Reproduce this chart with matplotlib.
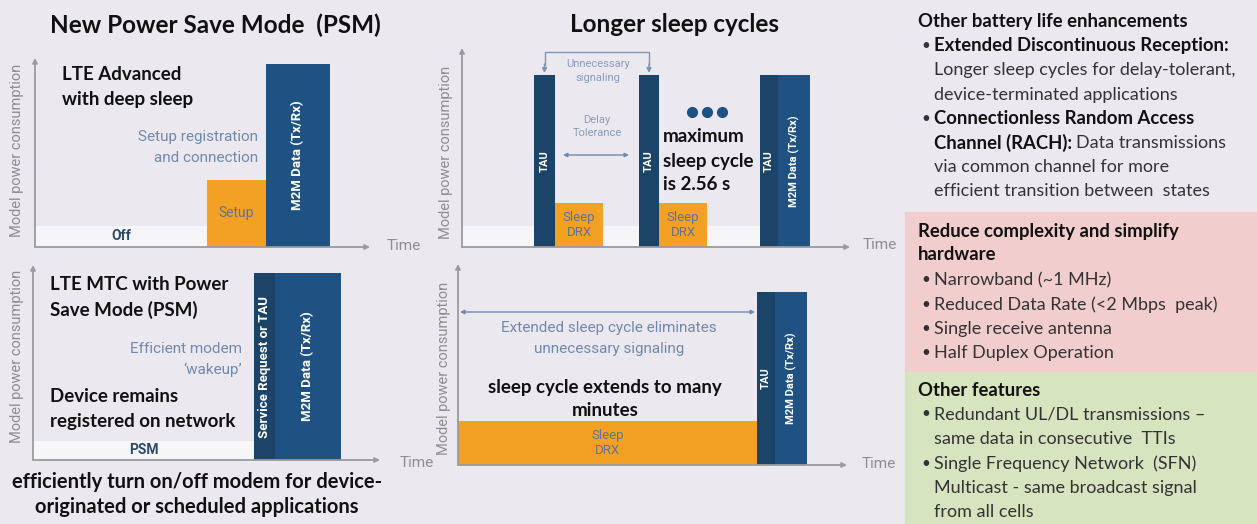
import numpy as np
import matplotlib.pyplot as plt
from matplotlib.patches import Rectangle

W, H = 1257, 524

BG = "#ECE8EF"
NAVY = "#1F5283"
NAVY_DARK = "#1B4468"
ORANGE = "#F2A124"
PALE = "#F6F6F8"
AXIS_GREY = "#9B9B9B"
NOTE_BLUE = "#7189AD"
IN_BAR_BLUE = "#5E7396"
RED_BOX = "#F2CDCD"
GREEN_BOX = "#D6E4BF"

# bar kinds: idle (near-off floor), sleep (orange), tau (dark navy), data (navy)
# top-left: LTE Advanced with deep sleep
adv_labels = ["Off", "Setup", "M2M Data (Tx/Rx)"]
adv_kinds = ["idle", "sleep", "data"]
adv_start = [0, 172, 231]
adv_width = [172, 59, 64]
adv_power = [21, 67, 183]

# bottom-left: LTE MTC with PSM
mtc_labels = ["PSM", "Service Request or TAU", "M2M Data (Tx/Rx)"]
mtc_kinds = ["idle", "tau", "data"]
mtc_start = [0, 221, 242]
mtc_width = [221, 21, 66]
mtc_power = [19, 187, 187]

# top-middle: regular DRX cycle
drx_labels = ["", "TAU", "Sleep\nDRX", "TAU", "Sleep\nDRX", "TAU", "M2M Data (Tx/Rx)"]
drx_kinds = ["idle", "tau", "sleep", "tau", "sleep", "tau", "data"]
drx_start = [0, 72, 93, 177, 197, 298, 316]
drx_width = [298, 21, 48, 20, 48, 18, 32]
drx_power = [21, 172, 44, 172, 44, 172, 172]

# bottom-middle: extended DRX
edrx_labels = ["Sleep\nDRX", "TAU", "M2M Data (Tx/Rx)"]
edrx_kinds = ["sleep", "tau", "data"]
edrx_start = [0, 299, 317]
edrx_width = [299, 18, 32]
edrx_power = [44, 173, 173]

KIND_COLOR = {"idle": PALE, "sleep": ORANGE, "tau": NAVY_DARK, "data": NAVY}

plt.rcParams["font.family"] = ["Lato", "DejaVu Sans"]

fig = plt.figure(figsize=(W / 100, H / 100), dpi=100)
fig.patch.set_facecolor(BG)

# full-figure layer in pixel units for free text and the side boxes
ov = fig.add_axes([0, 0, 1, 1], zorder=5)
ov.set_xlim(0, W)
ov.set_ylim(H, 0)
ov.axis("off")
ov.patch.set_alpha(0)


def panel(x0, y0, x1, y1):
    """Axes whose origin sits at pixel (x0, y0), one unit per pixel."""
    ax = fig.add_axes([x0 / W, (H - y0) / H, (x1 - x0) / W, (y0 - y1) / H])
    ax.set_xlim(0, x1 - x0)
    ax.set_ylim(0, y0 - y1)
    ax.axis("off")
    arrow = dict(arrowstyle="-|>", color=AXIS_GREY, lw=1.3,
                 mutation_scale=7, shrinkA=0, shrinkB=0)
    ax.annotate("", xy=(1, 0), xytext=(0, 0), xycoords="axes fraction",
                arrowprops=arrow, zorder=4)
    ax.annotate("", xy=(0, 1), xytext=(0, 0), xycoords="axes fraction",
                arrowprops=arrow, zorder=4)
    return ax


def draw_bars(ax, start, width, power, kinds, labels, rot_size, flat_size):
    ax.bar(start, power, width=width, align="edge",
           color=[KIND_COLOR[k] for k in kinds], zorder=2)
    for s, w, p, k, lab in zip(start, width, power, kinds, labels):
        if not lab:
            continue
        cx, cy = s + w / 2, p / 2
        if k in ("tau", "data"):
            ax.text(cx, cy, lab, rotation=90, ha="center", va="center",
                    color="white", fontsize=rot_size, fontweight="bold",
                    family="Roboto", zorder=3)
        elif k == "sleep":
            ax.text(cx, cy, lab, ha="center", va="center", color=IN_BAR_BLUE,
                    fontsize=flat_size, family="Roboto", linespacing=1.25,
                    zorder=3)
        else:
            ax.text(cx, cy, lab, ha="center", va="center", color="#2C4A6C",
                    fontsize=flat_size, fontweight="bold", family="Roboto",
                    zorder=3)


ax_a = panel(35, 247, 370, 58)
draw_bars(ax_a, adv_start, adv_width, adv_power, adv_kinds, adv_labels, 9.5, 10)

ax_b = panel(33, 460, 380, 265)
draw_bars(ax_b, mtc_start, mtc_width, mtc_power, mtc_kinds, mtc_labels, 9.5, 10)

ax_c = panel(462, 247, 850, 48)
draw_bars(ax_c, drx_start, drx_width, drx_power, drx_kinds, drx_labels, 8, 9.5)

ax_d = panel(458, 465, 847, 264)
draw_bars(ax_d, edrx_start, edrx_width, edrx_power, edrx_kinds, edrx_labels, 8, 9.5)

# bracket over the first two TAU bars
tau_idx = [i for i, k in enumerate(drx_kinds) if k == "tau"]
left_c = drx_start[tau_idx[0]] + drx_width[tau_idx[0]] / 2
right_c = drx_start[tau_idx[1]] + drx_width[tau_idx[1]] / 2
top = max(drx_power)
ax_c.plot([left_c, left_c, right_c, right_c], [top + 10, top + 23, top + 23, top + 10],
          color="#7F95B5", lw=1, clip_on=False)
for xc in (left_c, right_c):
    ax_c.annotate("", xy=(xc, top + 2), xytext=(xc, top + 11),
                  arrowprops=dict(arrowstyle="-|>", color="#7F95B5", lw=1,
                                  mutation_scale=7, shrinkA=0, shrinkB=0))

# delay tolerance span between first sleep and second TAU
ax_c.annotate("", xy=(drx_start[2] + 8, 92), xytext=(drx_start[3] - 10, 92),
              arrowprops=dict(arrowstyle="<|-|>", color="#6F89AD", lw=1,
                              mutation_scale=6, shrinkA=0, shrinkB=0))

# ellipsis after the second sleep period
dot_c = drx_start[4] + drx_width[4]
ax_c.plot(dot_c + np.array([-15, 0, 15]), [135] * 3, "o", color=NAVY,
          ms=7, zorder=3)

# extended sleep span
ax_d.annotate("", xy=(2, 153), xytext=(edrx_start[1] - 2, 153),
              arrowprops=dict(arrowstyle="<|-|>", color="#6F89AD", lw=1,
                              mutation_scale=6, shrinkA=0, shrinkB=0))

# axis captions
ylab = dict(rotation=90, ha="center", va="center", color="#8E8E8E",
            fontsize=10.5, family="Roboto")
ov.text(17, 150, "Model power consumption", **ylab)
ov.text(17, 356, "Model power consumption", **ylab)
ov.text(446, 152, "Model power consumption", **ylab)
ov.text(444, 368, "Model power consumption", **ylab)
tlab = dict(ha="left", va="center", color="#8E8E8E", fontsize=11, family="Roboto")
ov.text(387, 246, "Time", **tlab)
ov.text(400, 463, "Time", **tlab)
ov.text(863, 245, "Time", **tlab)
ov.text(862, 464, "Time", **tlab)

# headings
ov.text(215, 25, "New Power Save Mode  (PSM)", ha="center", va="center",
        fontsize=17.5, fontweight="bold", color="#111111")
ov.text(674, 25, "Longer sleep cycles", ha="center", va="center",
        fontsize=17.5, fontweight="bold", color="#111111")

bold = dict(fontsize=13.5, fontweight="bold", color="#111111", va="center")
note = dict(fontsize=11, color=NOTE_BLUE, family="Roboto", va="center")
small_note = dict(fontsize=8, color="#8A9DBA", family="Roboto", va="center",
                  ha="center")

ov.text(62, 75, "LTE Advanced", ha="left", **bold)
ov.text(62, 100, "with deep sleep", ha="left", **bold)
ov.text(258, 137, "Setup registration", ha="right", **note)
ov.text(258, 158, "and connection", ha="right", **note)

ov.text(50, 285, "LTE MTC with Power", ha="left", **bold)
ov.text(50, 310, "Save Mode (PSM)", ha="left", **bold)
ov.text(242, 349, "Efficient modem", ha="right", **note)
ov.text(242, 370, "\u2018wakeup\u2019", ha="right", **note)
ov.text(50, 397, "Device remains", ha="left", **bold)
ov.text(50, 421, "registered on network", ha="left", **bold)
ov.text(197, 482, "efficiently turn on/off modem for device-", ha="center",
        **dict(bold, fontsize=14.5))
ov.text(197, 507, "originated or scheduled applications", ha="center",
        **dict(bold, fontsize=14.5))

ov.text(598, 64, "Unnecessary", **small_note)
ov.text(598, 78, "signaling", **small_note)
ov.text(597, 120, "Delay", **small_note)
ov.text(597, 133, "Tolerance", **small_note)
ov.text(663, 137, "maximum", ha="left", **bold)
ov.text(663, 161, "sleep cycle", ha="left", **bold)
ov.text(663, 185, "is 2.56 s", ha="left", **bold)

ov.text(609, 328, "Extended sleep cycle eliminates", ha="center", **note)
ov.text(609, 349, "unnecessary signaling", ha="center", **note)
ov.text(605, 387, "sleep cycle extends to many", ha="center", **bold)
ov.text(605, 411, "minutes", ha="center", **bold)

# side column
ov.add_patch(Rectangle((905, 212), W - 905, 160, color=RED_BOX, zorder=0))
ov.add_patch(Rectangle((905, 372), W - 905, H - 372, color=GREEN_BOX, zorder=0))

hd = dict(fontsize=13.3, va="center", ha="left", fontweight="bold",
          color="#111111")
rg = dict(fontsize=13, va="center", ha="left", color="#333333")
renderer = fig.canvas.get_renderer()


def bullet(y):
    ov.text(921, y, "\u2022", **dict(rg, fontsize=11))


def line(y, strong="", plain="", x=934):
    xx = x
    if strong:
        t = ov.text(xx, y, strong, **hd)
        bb = t.get_window_extent(renderer)
        xx = bb.x1 + 4
    if plain:
        ov.text(xx, y, plain, **rg)


line(21, "Other battery life enhancements", x=918)
bullet(46)
line(46, "Extended Discontinuous Reception:")
line(70, plain="Longer sleep cycles for delay-tolerant,")
line(95, plain="device-terminated applications")
bullet(119)
line(119, "Connectionless Random Access")
line(143, "Channel (RACH):", "Data transmissions")
line(167, plain="via common channel for more")
line(191, plain="efficient transition between  states")

line(231, "Reduce complexity and simplify", x=918)
line(255, "hardware", x=918)
for y, txt in [(280, "Narrowband (~1 MHz)"),
               (305, "Reduced Data Rate (<2 Mbps  peak)"),
               (329, "Single receive antenna"),
               (353, "Half Duplex Operation")]:
    bullet(y)
    line(y, plain=txt)

line(390, "Other features", x=918)
bullet(414)
line(414, plain="Redundant UL/DL transmissions \u2013")
line(439, plain="same data in consecutive  TTIs")
bullet(464)
line(464, plain="Single Frequency Network  (SFN)")
line(488, plain="Multicast - same broadcast signal")
line(512, plain="from all cells")

fig.savefig("out.png", dpi=100, facecolor=BG)
